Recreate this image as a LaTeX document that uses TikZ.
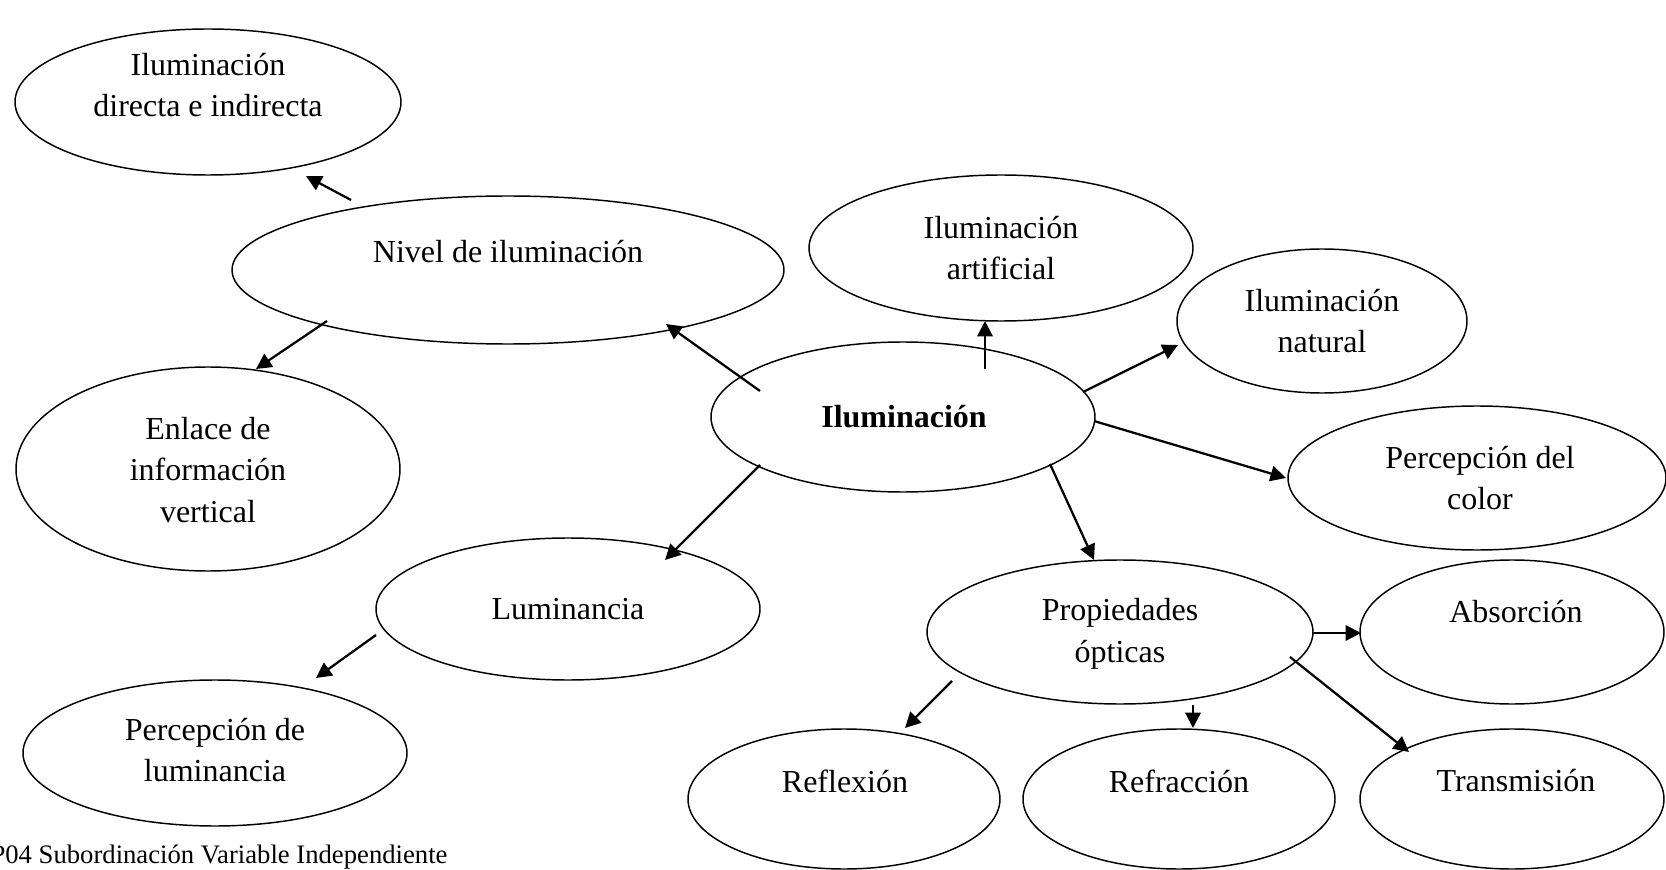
\documentclass[tikz,border=0pt]{standalone}
\usepackage{fontspec}
\setmainfont{Liberation Serif}
\usetikzlibrary{shapes.geometric, arrows.meta}

\begin{document}
\begin{tikzpicture}[x=0.375pt, y=-0.375pt,
    idea/.style 2 args={ellipse, draw, line width=0.55pt, inner sep=0pt,
      minimum width=#1*0.75pt, minimum height=#2*0.75pt},
    idea text/.style={align=center, inner sep=0pt,
      font=\fontsize{12}{15.6}\selectfont},
    flecha/.style={-{Triangle[length=5.8pt,width=5.8pt]}, line width=0.85pt} ]
    \useasboundingbox (0,0) rectangle (1666,870);
    % ellipses
    \node [idea={193}{73}] (dir) at (208,102) {};
    \node [idea={276}{74}] (niv) at (508,270) {};
    \node [idea={192}{102}] (enl) at (208,469) {};
    \node [idea={192}{71}] (lum) at (568,609) {};
    \node [idea={192}{73}] (pl) at (215,753) {};
    \node [idea={192}{75}] (il) at (903,417) {};
    \node [idea={192}{73}] (art) at (1001,248) {};
    \node [idea={145}{72}] (nat) at (1322,321) {};
    \node [idea={189}{72}] (col) at (1477,478) {};
    \node [idea={193}{72}] (prop) at (1120,632) {};
    \node [idea={152}{72}] (abs) at (1512,632) {};
    \node [idea={156}{70}] (ref) at (844,799) {};
    \node [idea={156}{70}] (rfr) at (1179,799) {};
    \node [idea={152}{70}] (tra) at (1512,799) {};
    % texts
    \node [idea text] (dir-t) at (208,85) {Iluminación\\directa e indirecta};
    \node [idea text] (niv-t) at (508,252) {Nivel de iluminación};
    \node [idea text] (enl-t) at (208,470) {Enlace de\\información\\vertical};
    \node [idea text] (lum-t) at (568,609) {Luminancia};
    \node [idea text] (pl-t) at (215,750) {Percepción de\\luminancia};
    \node [idea text, font=\fontsize{12}{15.6}\selectfont\bfseries] (il-t) at (904,417) {Iluminación};
    \node [idea text] (art-t) at (1001,248) {Iluminación\\artificial};
    \node [idea text] (nat-t) at (1322,321) {Iluminación\\natural};
    \node [idea text] (col-t) at (1480,478) {Percepción del\\color};
    \node [idea text] (prop-t) at (1120,634) {Propiedades\\ópticas};
    \node [idea text] (abs-t) at (1516,612) {Absorción};
    \node [idea text] (ref-t) at (845,781) {Reflexión};
    \node [idea text] (rfr-t) at (1179,781) {Refracción};
    \node [idea text] (tra-t) at (1516,781) {Transmisión};
    \node [anchor=base east, inner sep=0pt, font=\fontsize{10}{12}\selectfont] (cap) at (448,863) {P04 Subordinación Variable Independiente};
    % arrow ends
    \coordinate (a1) at (351,200);  \coordinate (b1) at (306,176);
    \coordinate (a2) at (327,321);  \coordinate (b2) at (256,369);
    \coordinate (a3) at (760,391);  \coordinate (b3) at (666,324);
    \coordinate (a4) at (985,369);  \coordinate (b4) at (985,321);
    \coordinate (a5) at (1083,392); \coordinate (b5) at (1178,345);
    \coordinate (a6) at (1094,421); \coordinate (b6) at (1286,478);
    \coordinate (a7) at (1050,464); \coordinate (b7) at (1094,560);
    \coordinate (a8) at (760,465);  \coordinate (b8) at (665,560);
    \coordinate (a9) at (376,635);  \coordinate (b9) at (316,678);
    \coordinate (a10) at (1313,633); \coordinate (b10) at (1361,633);
    \coordinate (a11) at (952,681); \coordinate (b11) at (905,728);
    \coordinate (a12) at (1193,705); \coordinate (b12) at (1193,728);
    \coordinate (a13) at (1290,657); \coordinate (b13) at (1409,752);
    \foreach \i in {1,...,13}
      \draw [flecha] (a\i) -- (b\i);
\end{tikzpicture}
\end{document}
